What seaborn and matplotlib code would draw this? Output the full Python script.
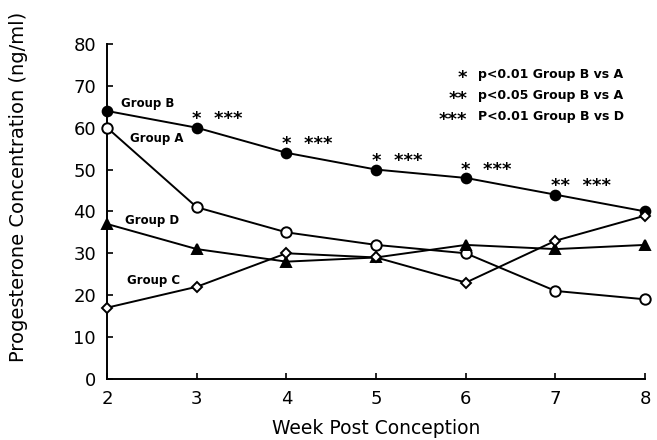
import pandas as pd
import numpy as np
import seaborn as sns
import matplotlib.pyplot as plt

weeks = [2, 3, 4, 5, 6, 7, 8]
group_b = [64, 60, 54, 50, 48, 44, 40]
group_a = [60, 41, 35, 32, 30, 21, 19]
group_d = [37, 31, 28, 29, 32, 31, 32]
group_c = [17, 22, 30, 29, 23, 33, 39]

star_weeks = [3, 4, 5, 6, 7]
star_text = ["*  ***", "*  ***", "*  ***", "*  ***", "**  ***"]

legend_stars = ["*", "**", "***"]
legend_text = ["p<0.01 Group B vs A", "p<0.05 Group B vs A", "P<0.01 Group B vs D"]

df = pd.DataFrame({
    "week": weeks * 4,
    "conc": group_b + group_a + group_d + group_c,
    "group": ["B"] * 7 + ["A"] * 7 + ["D"] * 7 + ["C"] * 7,
})

sns.set_style("ticks")
plt.rcParams["font.family"] = ["DejaVu Sans"]
plt.rcParams.update({"text.color": "black", "axes.labelcolor": "black",
                     "xtick.color": "black", "ytick.color": "black",
                     "axes.edgecolor": "black"})

fig = plt.figure(figsize=(6.57, 4.4), dpi=100)
ax = fig.add_axes([0.163, 0.139, 0.819, 0.761])

styles = {
    "B": dict(marker="o", markerfacecolor="black", markersize=7),
    "A": dict(marker="o", markerfacecolor="white", markersize=7.5),
    "D": dict(marker="^", markerfacecolor="black", markersize=7),
    "C": dict(marker="D", markerfacecolor="white", markersize=5.5),
}
for g, st in styles.items():
    sns.lineplot(data=df[df["group"] == g], x="week", y="conc", ax=ax,
                 color="black", linewidth=1.4, markeredgecolor="black",
                 markeredgewidth=1.4, clip_on=False, zorder=3, **st)

# stars above group B
for w, s in zip(star_weeks, star_text):
    yb = group_b[weeks.index(w)]
    ax.text(w - 0.05, yb + 2.0, s, fontsize=13, fontweight="bold",
            ha="left", va="center")

# group labels
labels = [("Group B", 2.15, 65.9), ("Group A", 2.26, 57.5),
          ("Group D", 2.2, 37.9), ("Group C", 2.22, 23.6)]
for t, x, y in labels:
    ax.text(x, y, t, fontsize=8.5, fontweight="bold", ha="left", va="center")

# significance key
for i, (s, t) in enumerate(zip(legend_stars, legend_text)):
    y = 72.6 - i * 5.0
    ax.text(6.02, y - 0.8, s, fontsize=13, fontweight="bold", ha="right", va="center")
    ax.text(6.14, y, t, fontsize=9, fontweight="bold", ha="left", va="center")

ax.set_xlim(2, 8)
ax.set_ylim(0, 80)
ax.set_xticks(weeks)
ax.set_yticks(np.arange(0, 81, 10))
ax.tick_params(direction="in", length=4, width=1.2, labelsize=13)
ax.tick_params(axis="x", pad=8)
ax.tick_params(axis="y", pad=8)
for side in ["left", "bottom"]:
    ax.spines[side].set_linewidth(1.4)
sns.despine(ax=ax)
ax.set_xlabel("Week Post Conception", fontsize=13.5, labelpad=8)
ax.set_ylabel("Progesterone Concentration (ng/ml)", fontsize=14)
ax.yaxis.set_label_coords(-0.147, 0.573)

fig.savefig("out.png", dpi=100)
